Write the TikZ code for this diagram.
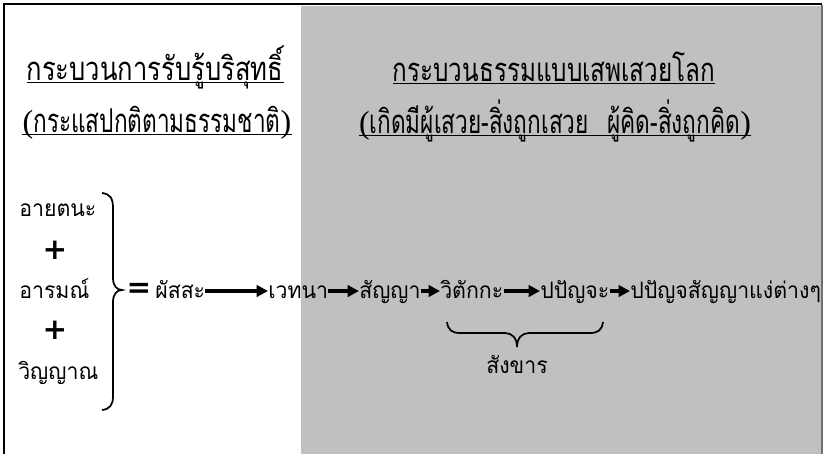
\documentclass[tikz,border=0pt]{standalone}
\usepackage{fontspec}
\newfontfamily\thaiT[Script=Thai,FakeStretch=0.78]{Loma}
\newfontfamily\thaiU[Script=Thai,FakeStretch=0.74]{Loma}
\newfontfamily\thaiS[Script=Thai,FakeStretch=0.69]{Loma}
\newfontfamily\thai[Script=Thai,FakeStretch=0.94]{Loma}
\newfontfamily\paren{Liberation Serif}
\newfontfamily\symb{DejaVu Sans}
\usetikzlibrary{arrows.meta}
\definecolor{panel}{HTML}{C0C0C0}
\definecolor{edge}{HTML}{707070}
\newcommand{\lp}{{\paren\fontsize{24}{24}\selectfont(}}
\newcommand{\rp}{{\paren\fontsize{24}{24}\selectfont)}}
\tikzset{
  ttl/.style={inner sep=0pt, anchor=base},
  word/.style={inner sep=0pt, anchor=base west, font=\thai\fontsize{17}{19}\selectfont, text height=12pt, text depth=1.5pt},
  lbl/.style={inner sep=0pt, anchor=base west, font=\thai\fontsize{17}{19}\selectfont},
  sym/.style={inner sep=0pt, font=\symb\bfseries\fontsize{22}{22}\selectfont},
  arr/.style={line width=2.4pt, -{Triangle[length=8.5pt,width=8.5pt]}},
  ul/.style={line width=0.8pt},
  brc/.style={line width=1.3pt},
}
\begin{document}
\begin{tikzpicture}[x=0.75pt,y=-0.75pt]
\useasboundingbox (0,0) rectangle (828,454);
% panel
\fill[panel] (301,6) rectangle (822,454);
\draw[edge, line width=0.9pt] (822,5) -- (822,454);
\draw[line width=2pt] (3,4) -- (822,4);
\draw[line width=2pt] (4,3) -- (4,454);
% titles
\node[ttl, font=\thaiT\fontsize{24.6}{26}\selectfont] (t1) at (155,80) {กระบวนการรับรู้บริสุทธิ์};
\node[ttl, font=\thaiS\fontsize{24.6}{26}\selectfont] (s1) at (157,132) {\lp กระแสปกติตามธรรมชาติ\rp};
\node[ttl, font=\thaiU\fontsize{24.6}{26}\selectfont] (t2) at (554,81) {กระบวนธรรมแบบเสพเสวยโลก};
\node[ttl, font=\thaiS\fontsize{24.6}{26}\selectfont] (s2) at (555,133) {\lp เกิดมีผู้เสวย-สิ่งถูกเสวย\hspace{14pt}ผู้คิด-สิ่งถูกคิด\rp};
\foreach \n in {t1,s1,t2,s2}
  \draw[ul] ([yshift=-2pt]\n.base west) -- ([yshift=-2pt]\n.base east);
% left column
\node[lbl] (ayat) at (19,216) {อายตนะ};
\node[sym] (p1) at (55,250) {+};
\node[lbl] (arom) at (19,298) {อารมณ์};
\node[sym] (p2) at (55,330) {+};
\node[lbl] (vinn) at (18,379) {วิญญาณ};
% big brace
\draw[brc] (102,193) .. controls (110,194) and (113,198) .. (113,208)
  -- (113,278) .. controls (113,286) and (117,290) .. (122,290)
  .. controls (117,290) and (113,294) .. (113,302)
  -- (113,396) .. controls (113,405) and (110,409) .. (102,410);
\node[sym] (eq) at (139,290) {=};
% chain
\node[word] (phassa) at (155,298) {ผัสสะ};
\node[word] (vedana) at (268,298) {เวทนา};
\node[word] (sanna) at (359,298) {สัญญา};
\node[word] (vitak) at (440,298) {วิตักกะ};
\node[word] (papan) at (540,298) {ปปัญจะ};
\node[word] (papsan) at (630,298) {ปปัญจสัญญาแง่ต่างๆ};
\draw[arr] (phassa.east) -- (vedana.west);
\draw[arr] (vedana.east) -- (sanna.west);
\draw[arr] (sanna.east) -- (vitak.west);
\draw[arr] (vitak.east) -- (papan.west);
\draw[arr] (papan.east) -- (papsan.west);
% under brace
\draw[brc] (447,322) .. controls (448,330) and (452,333) .. (460,333)
  -- (505,333) .. controls (512,333) and (517,338) .. (517,347)
  .. controls (517,338) and (522,333) .. (529,333)
  -- (590,333) .. controls (598,333) and (602,330) .. (603,322);
\node[lbl, anchor=base] (sank) at (517,373) {สังขาร};
\end{tikzpicture}
\end{document}
